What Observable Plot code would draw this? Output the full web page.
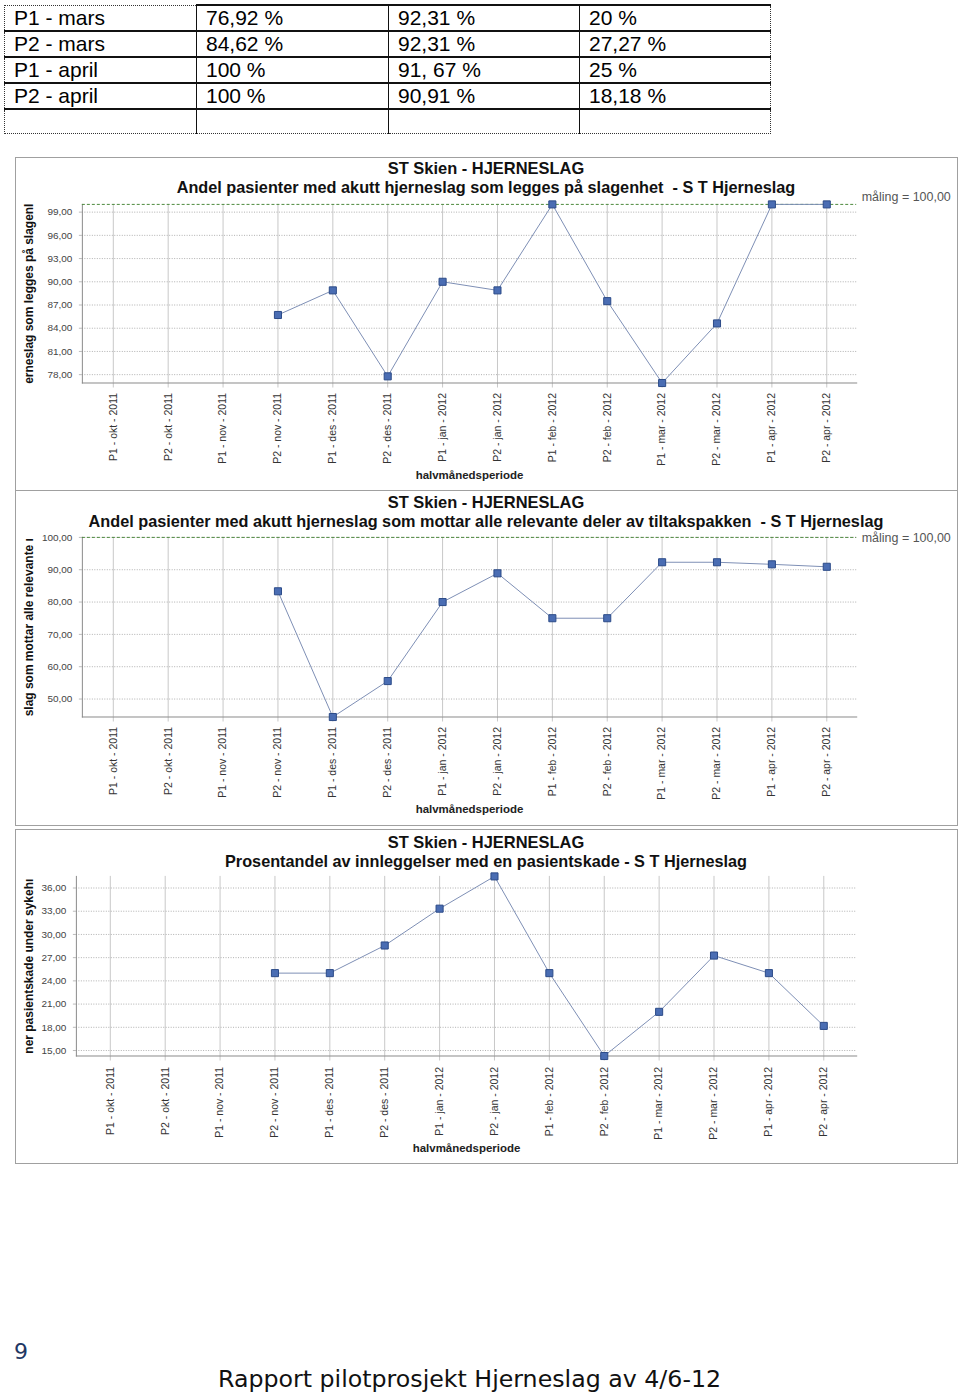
<!DOCTYPE html>
<html>
<head>
<meta charset="utf-8">
<script src="https://cdn.jsdelivr.net/npm/d3@7"></script>
<script src="https://cdn.jsdelivr.net/npm/@observablehq/plot@0.6"></script>
<style>
  html, body { margin: 0; padding: 0; background: #fff; }
  #page { position: relative; width: 960px; height: 1392px; overflow: hidden; background: #fff; font-family: "Liberation Sans", Arial, sans-serif; }
  table.top { position: absolute; left: 4px; top: 4px; border-collapse: collapse; font-family: "Liberation Sans", Arial, sans-serif; font-size: 21px; color: #000; }
  table.top td { height: 24px; padding: 0 0 0 9px; line-height: 24px; border-left: 1px solid #111; border-bottom: 2px solid #111; vertical-align: middle; white-space: nowrap; }
  table.top tr:first-child td { border-top: 2px solid #111; }
  table.top tr:first-child td:first-child { border-top: 1px dotted #333; }
  table.top td:first-child { border-left: 1px dotted #333; }
  table.top td:last-child { border-right: 1px dotted #333; }
  table.top tr:last-child td { border-bottom: 1px dotted #333; height: 23px; }
  .box { position: absolute; box-sizing: border-box; border: 1px solid #a0a0a0; background: #fff; }
  .box svg { position: absolute; left: -1px; top: -1px; }
  .pnum { position: absolute; left: 14px; top: 1339px; font-family: "DejaVu Sans", Verdana, sans-serif; font-size: 22px; color: #1f3864; }
  .foot { position: absolute; left: 218px; top: 1367px; line-height: 24px; font-family: "DejaVu Sans", Verdana, sans-serif; font-size: 23.7px; color: #111; white-space: nowrap; }
</style>
</head>
<body>
<div id="page"></div>
<script>
// ---------- data ----------
const tableRows = ["P1 - mars", "P2 - mars", "P1 - april", "P2 - april", ""];
const tableSlagenhet = ["76,92 %", "84,62 %", "100 %", "100 %", ""];
const tableTiltak = ["92,31 %", "92,31 %", "91, 67 %", "90,91 %", ""];
const tableSkade = ["20 %", "27,27 %", "25 %", "18,18 %", ""];

const periods = ["P1 - okt - 2011", "P2 - okt - 2011", "P1 - nov - 2011", "P2 - nov - 2011",
  "P1 - des - 2011", "P2 - des - 2011", "P1 - jan - 2012", "P2 - jan - 2012",
  "P1 - feb - 2012", "P2 - feb - 2012", "P1 - mar - 2012", "P2 - mar - 2012",
  "P1 - apr - 2012", "P2 - apr - 2012"];

const slagenhet = [null, null, null, 85.71, 88.89, 77.78, 90.0, 88.89, 100, 87.5, 76.92, 84.62, 100, 100];
const tiltakspakke = [null, null, null, 83.33, 44.44, 55.56, 80.0, 88.89, 75.0, 75.0, 92.31, 92.31, 91.67, 90.91];
const pasientskade = [null, null, null, 25.0, 25.0, 28.57, 33.33, 37.5, 25.0, 14.29, 20.0, 27.27, 25.0, 18.18];

const ticks1 = [78, 81, 84, 87, 90, 93, 96, 99];
const ticks2 = [50, 60, 70, 80, 90, 100];
const ticks3 = [15, 18, 21, 24, 27, 30, 33, 36];
const target = 100;

const mainTitle = "ST Skien - HJERNESLAG";
const sub1 = "Andel pasienter med akutt hjerneslag som legges på slagenhet  - S T Hjerneslag";
const sub2 = "Andel pasienter med akutt hjerneslag som mottar alle relevante deler av tiltakspakken  - S T Hjerneslag";
const sub3 = "Prosentandel av innleggelser med en pasientskade - S T Hjerneslag";
const ylab1 = "erneslag som legges på slagenl";
const ylab2 = "slag som mottar alle relevante ı";
const ylab3 = "ner pasientskade under sykehı";
const xlab = "halvmånedsperiode";
const targetLabel = "måling = 100,00";

// ---------- page ----------
const page = document.getElementById("page");

// table
const tbl = document.createElement("table");
tbl.className = "top";
const colW = [182, 182, 181, 181];
tableRows.forEach((r, i) => {
  const tr = document.createElement("tr");
  [r, tableSlagenhet[i], tableTiltak[i], tableSkade[i]].forEach((v, j) => {
    const td = document.createElement("td");
    td.style.width = colW[j] + "px";
    td.textContent = v;
    tr.appendChild(td);
  });
  tbl.appendChild(tr);
});
page.appendChild(tbl);

const fmt = d => d.toFixed(2).replace(".", ",");

function chart(cfg) {
  const W = 943;
  const data = periods.map((p, i) => ({p, v: cfg.values[i]})).filter(d => d.v != null);
  const fw = W - cfg.ml - cfg.mr;
  const titleDx = W / 2 - (cfg.ml + fw / 2);
  const marks = [
    Plot.ruleX(periods, {x: d => d, stroke: "#c8c8c8", strokeWidth: 1}),
    Plot.ruleY(cfg.ticks, {y: d => d, stroke: "#b0b0b0", strokeDasharray: "1,1.5", strokeWidth: 1}),
    Plot.axisY({ticks: cfg.ticks, tickFormat: fmt, tickSize: 3, tickPadding: cfg.ytp, stroke: "#bbb", fill: "#444", fontSize: 10, label: null}),
    Plot.axisX({tickRotate: -90, tickSize: 5, tickPadding: cfg.xtp, stroke: "#c8c8c8", fill: "#333", fontSize: 10.5, label: null}),
    Plot.frame({anchor: "left", stroke: "#8a8a8a"}),
    Plot.frame({anchor: "bottom", stroke: "#8a8a8a"}),
  ];
  if (cfg.target) {
    marks.push(Plot.ruleY([target], {stroke: "#4d8a3d", strokeDasharray: "3,2", strokeWidth: 1}));
    marks.push(Plot.text([targetLabel], {frameAnchor: "top-right", dx: 5, dy: cfg.tdy, textAnchor: "start", lineAnchor: "middle", fill: "#555", fontSize: 12.5}));
  }
  marks.push(
    Plot.line(data, {x: "p", y: "v", stroke: "#7d8fb5", strokeWidth: 1}),
    Plot.dot(data, {x: "p", y: "v", symbol: "square", r: 4, fill: "#4a6db3", stroke: "#2b4a88", strokeWidth: 1}),
    Plot.text([mainTitle], {frameAnchor: "top", dx: titleDx, dy: cfg.t1, lineAnchor: "middle", textAnchor: "middle", fontWeight: "bold", fontSize: 16.5, fill: "#111"}),
    Plot.text([cfg.sub], {frameAnchor: "top", dx: titleDx, dy: cfg.t2, lineAnchor: "middle", textAnchor: "middle", fontWeight: "bold", fontSize: 16.3, fill: "#111"}),
    Plot.text([cfg.ylab], {frameAnchor: "left", rotate: -90, dx: cfg.ydx, textAnchor: "middle", lineAnchor: "middle", fontWeight: "bold", fontSize: 12, fill: "#111"}),
    Plot.text([xlab], {frameAnchor: "bottom", dy: 92, lineAnchor: "middle", textAnchor: "middle", fontWeight: "bold", fontSize: 11.5, fill: "#222"})
  );
  const svg = Plot.plot({
    width: W, height: cfg.h,
    marginLeft: cfg.ml, marginRight: cfg.mr, marginTop: cfg.mt, marginBottom: cfg.mb,
    style: {fontFamily: "'Liberation Sans', Arial, sans-serif", background: "transparent", overflow: "visible"},
    x: {type: "point", domain: periods, padding: 0.53},
    y: {domain: cfg.domain},
    marks
  });
  const box = document.createElement("div");
  box.className = "box";
  box.style.left = cfg.left + "px";
  box.style.top = cfg.top + "px";
  box.style.width = W + "px";
  box.style.height = cfg.h + "px";
  box.appendChild(svg);
  page.appendChild(box);
}

chart({values: slagenhet, ticks: ticks1, domain: [76.92, 100], sub: sub1, ylab: ylab1, target: true,
  left: 15, top: 157, h: 334, ml: 67, mr: 100, mt: 47, mb: 108, t1: -36, t2: -17, tdy: -7, ydx: -53, ytp: 7, xtp: 5});
chart({values: tiltakspakke, ticks: ticks2, domain: [44.44, 100], sub: sub2, ylab: ylab2, target: true,
  left: 15, top: 490, h: 336, ml: 67, mr: 100, mt: 47, mb: 109, t1: -35, t2: -16, tdy: 1, ydx: -53, ytp: 7, xtp: 5});
chart({values: pasientskade, ticks: ticks3, domain: [14.29, 37.5], sub: sub3, ylab: ylab3, target: false,
  left: 15, top: 829, h: 335, ml: 61, mr: 100, mt: 47, mb: 108, t1: -34, t2: -15, tdy: 0, ydx: -47, ytp: 7, xtp: 6});

const pn = document.createElement("div");
pn.className = "pnum"; pn.textContent = "9";
page.appendChild(pn);
const ft = document.createElement("div");
ft.className = "foot"; ft.textContent = "Rapport pilotprosjekt Hjerneslag av 4/6-12";
page.appendChild(ft);
</script>
</body>
</html>
